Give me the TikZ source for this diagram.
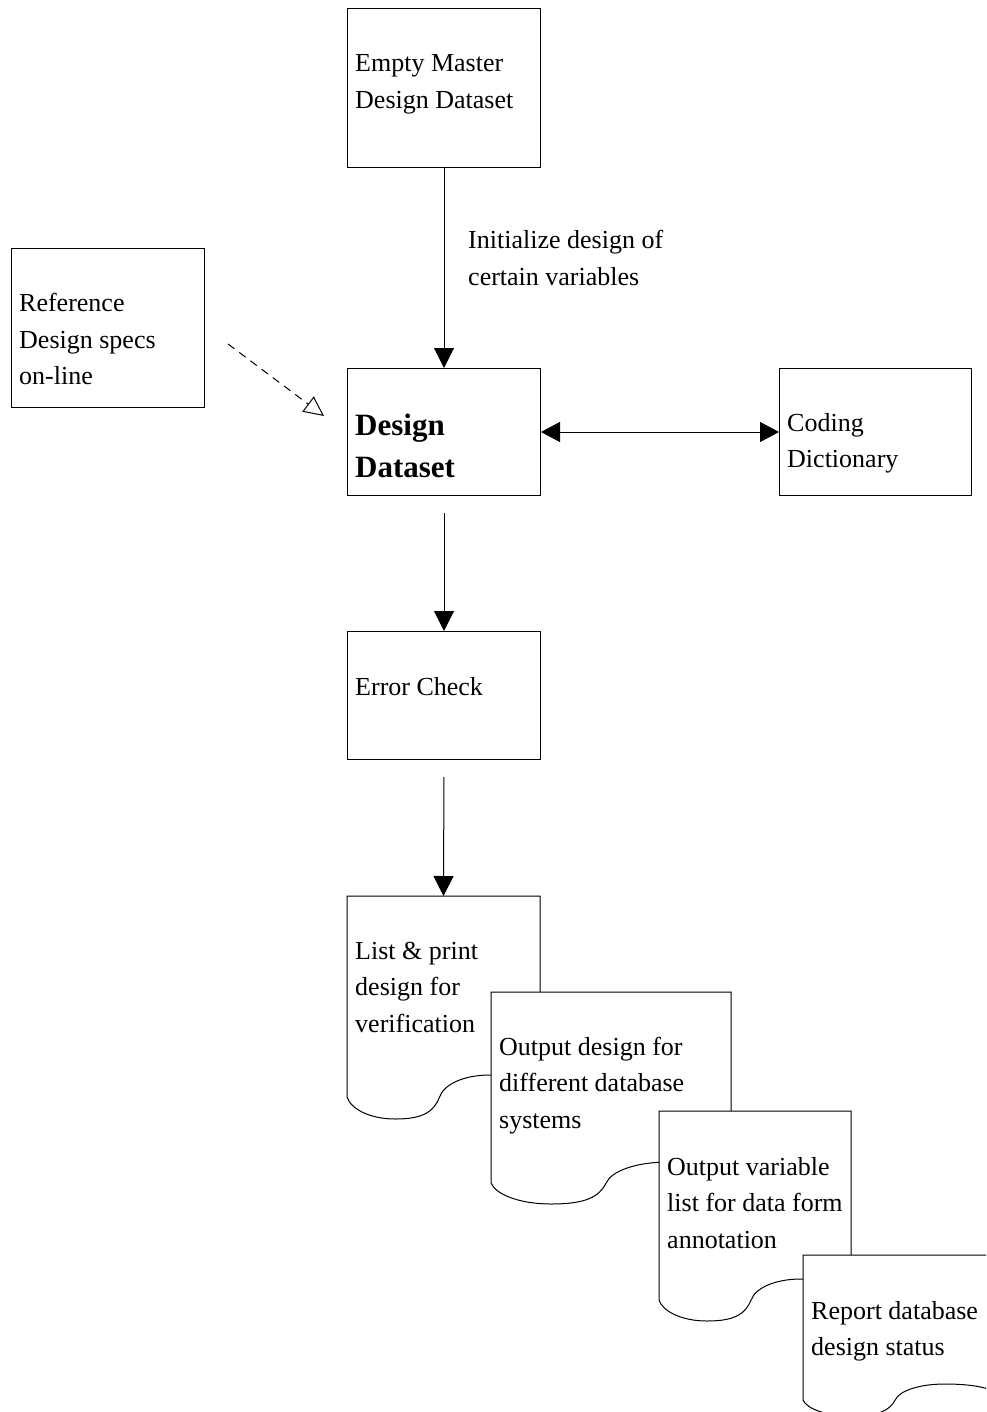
\documentclass[tikz,border=0pt]{standalone}
\usepackage{fontspec}
\setmainfont{Liberation Serif}
\usetikzlibrary{arrows.meta}
\newcommand{\txtlines}[1]{\begin{tabular}[t]{@{}l@{}}#1\end{tabular}}
% document shape: x, y(top), width, depth of left corner, wave amplitude
\newcommand{\docshape}[5]{%
  \filldraw[docstyle] (#1,#2) -- ({#1+#3},#2) -- ({#1+#3},{#2+#4-0.5*#5})
    .. controls ({#1+0.95*#3},{#2+#4-0.85*#5}) and ({#1+0.85*#3},{#2+#4-#5}) .. ({#1+0.74*#3},{#2+#4-#5})
    .. controls ({#1+0.6*#3},{#2+#4-#5}) and ({#1+0.5*#3},{#2+#4-0.55*#5}) .. ({#1+0.48*#3},{#2+#4})
    .. controls ({#1+0.45*#3},{#2+#4+0.64*#5}) and ({#1+0.4*#3},{#2+#4+#5}) .. ({#1+0.25*#3},{#2+#4+#5})
    .. controls ({#1+0.12*#3},{#2+#4+#5}) and ({#1+0.02*#3},{#2+#4+0.55*#5}) .. (#1,{#2+#4})
    -- cycle;}
\begin{document}
\begin{tikzpicture}[x=1pt,y=-1pt,
  box/.style={draw=black, line width=1pt, fill=white, inner sep=0pt, anchor=north west},
  docstyle/.style={draw=black, line width=1pt, fill=white},
  txt/.style={anchor=base west, inner sep=0pt, font=\fontsize{26}{36.5}\selectfont},
  btxt/.style={anchor=base west, inner sep=0pt, font=\fontsize{31}{42}\selectfont\bfseries},
  arr/.style={line width=1pt, -{Triangle[length=20pt,width=20pt]}},
  dblarr/.style={line width=1pt, {Triangle[length=19pt,width=20pt]}-{Triangle[length=19pt,width=20pt]}},
  dasharr/.style={line width=1pt, dash pattern=on 8pt off 6pt, -{Triangle[open,length=20pt,width=19pt]}}
]
\useasboundingbox (0,0) rectangle (986,1412);
\clip (0,0) rectangle (986,1412);

% boxes
\node[box, minimum width=193pt, minimum height=159pt] (empty) at (347,8) {};
\node[box, minimum width=193pt, minimum height=159pt] (ref) at (11,248) {};
\node[box, minimum width=193pt, minimum height=127pt] (design) at (347,368) {};
\node[box, minimum width=192pt, minimum height=127pt] (coding) at (779,368) {};
\node[box, minimum width=193pt, minimum height=128pt] (error) at (347,631) {};

% texts in boxes
\node[txt] (emptyT) at (355,72) {\txtlines{Empty Master\\Design Dataset}};
\node[txt] (initT) at (468,249) {\txtlines{Initialize design of\\certain variables}};
\node[txt] (refT) at (19,312) {\txtlines{Reference\\Design specs\\on-line}};
\node[btxt] (designT) at (355,435) {\txtlines{Design\\Dataset}};
\node[txt] (codingT) at (787,431) {\txtlines{Coding\\Dictionary}};
\node[txt] (errorT) at (355,695) {Error Check};

% connectors
\coordinate (d1top) at (443.5,896);
\coordinate (dstart) at (228,344);
\coordinate (dend) at (324,416);
\draw[arr] (empty) -- (design);
\draw[dblarr] (design) -- (coding);
\draw[arr, shorten <=17pt] (design) -- (error);
\draw[arr, shorten <=17pt] (error.south) -- (d1top);
\draw[dasharr] (dstart) -- (dend);

% documents
\docshape{347}{896}{193}{201}{22}
\node[txt] (doc1T) at (355,959) {\txtlines{List \& print\\design for\\verification}};
\docshape{491}{992}{240}{191}{21}
\node[txt] (doc2T) at (499,1055) {\txtlines{Output design for\\different database\\systems}};
\docshape{659}{1111}{192}{189}{21}
\node[txt] (doc3T) at (667,1175) {\txtlines{Output variable\\list for data form\\annotation}};
\docshape{803}{1255}{192}{145}{16}
\node[txt] (doc4T) at (811,1319) {\txtlines{Report database\\design status}};
\end{tikzpicture}
\end{document}
